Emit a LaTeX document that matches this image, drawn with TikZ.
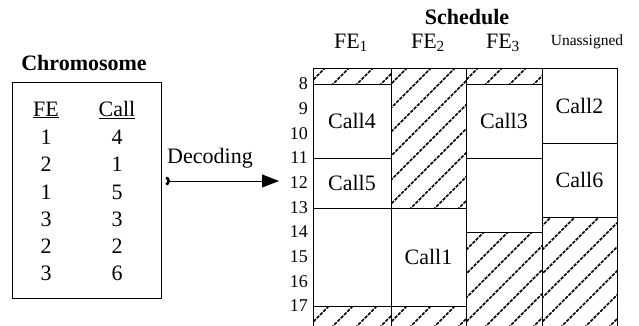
\documentclass[tikz,border=0pt]{standalone}
\usepackage{fontspec}
\setmainfont{Liberation Serif}
\usetikzlibrary{arrows.meta}
\tikzset{
  txt/.style={inner sep=0pt, font=\fontsize{22}{26}\selectfont},
  hourlbl/.style={inner sep=0pt, anchor=east, font=\fontsize{18}{21}\selectfont},
  cell/.style={draw, line width=0.8pt},
  hatch/.style={line width=1.7pt, dash pattern=on 3.4pt off 1.2pt}
}
\begin{document}
\begin{tikzpicture}[x=1pt, y=-1pt, line join=round, >=stealth]
\useasboundingbox (0,0) rectangle (639,325);
% chromosome
\node[txt, font=\fontsize{22}{26}\selectfont\bfseries] (chromtitle) at (84,63) {Chromosome};
\draw[cell] (12,82) rectangle (161,298);
\node[txt] (fehead) at (46,110) {\underline{FE}};
\node[txt] (callhead) at (117,110) {\underline{Call}};
\foreach \fe/\cl [count=\i] in {1/4, 2/1, 1/5, 3/3, 2/2, 3/6} {
  \node[txt] (fe\i) at (46,110+27.3*\i) {\fe};
  \node[txt] (cl\i) at (117,110+27.3*\i) {\cl};
}
% decoding arrow
\coordinate (decA) at (166,181);
\coordinate (decB) at (279,181);
\draw[line width=0.9pt, {Arc Barb[reversed, length=4pt, width=9pt, line width=2.6pt]}-{Triangle[length=17pt, width=13pt]}] (decA) -- (decB);
\node[txt] (declbl) at (210,158) {Decoding};
% schedule
\node[txt, font=\fontsize{22}{26}\selectfont\bfseries] (schedtitle) at (467,17) {Schedule};
\node[txt] (col1) at (351,43) {FE\textsubscript{1}};
\node[txt] (col2) at (428,43) {FE\textsubscript{2}};
\node[txt] (col3) at (503,43) {FE\textsubscript{3}};
\node[txt, font=\fontsize{15.5}{18}\selectfont] (col4) at (587,42) {Unassigned};
\foreach \h in {8,...,17}
  \node[hourlbl] (h\h) at (308,84+24.67*\h-197.36) {\h};
% hatched slots
\foreach \xa/\ya/\xb/\yb in {313/68/391/84, 313/306/391/326, 391/68/466/208, 391/306/466/326,
                             466/68/542/84, 466/232/542/326, 542/217/617/326} {
  \begin{scope}
    \clip (\xa,\ya) rectangle (\xb,\yb);
    \foreach \s in {-150,-126,...,90}
      \draw[hatch] (\xa+\s,\yb+2) -- ++(160,-160);
  \end{scope}
  \draw[cell] (\xa,\ya) rectangle (\xb,\yb);
}
% free slots
\draw[cell] (313,208) rectangle (391,306);
\draw[cell] (466,158) rectangle (542,232);
% calls
\node[txt, cell, minimum width=78pt, minimum height=74pt] (call4) at (352,121) {Call4};
\node[txt, cell, minimum width=78pt, minimum height=50pt] (call5) at (352,183) {Call5};
\node[txt, cell, minimum width=75pt, minimum height=98pt] (call1) at (428.5,257) {Call1};
\node[txt, cell, minimum width=76pt, minimum height=74pt] (call3) at (504,121) {Call3};
\node[txt, cell, minimum width=75pt, minimum height=75pt] (call2) at (579.5,105.5) {Call2};
\node[txt, cell, minimum width=75pt, minimum height=74pt] (call6) at (579.5,180) {Call6};
\end{tikzpicture}
\end{document}
